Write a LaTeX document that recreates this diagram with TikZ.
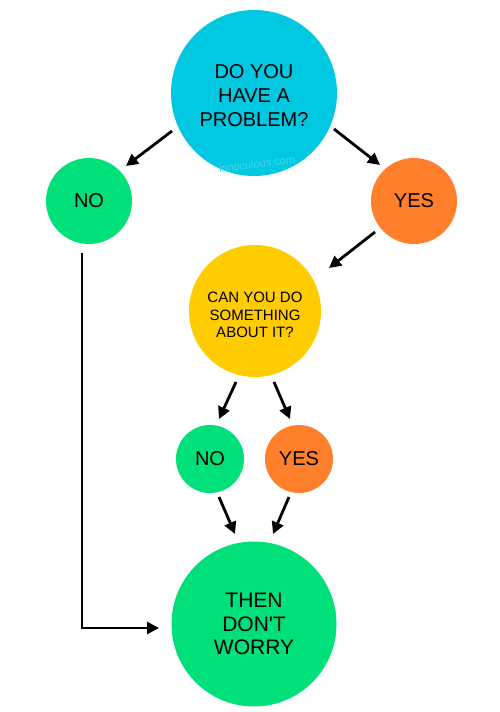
\documentclass[tikz,border=0pt]{standalone}
\usepackage{fontspec}
\setmainfont{Liberation Sans}
\usetikzlibrary{arrows.meta,calc}
\definecolor{qcyan}{HTML}{00C8E1}
\definecolor{qgreen}{HTML}{00E07A}
\definecolor{qorange}{HTML}{FF7F2A}
\definecolor{qyellow}{HTML}{FFCC00}
\definecolor{qmark}{HTML}{40D8EC}
\begin{document}
\begin{tikzpicture}[x=1pt,y=-1pt,
  bubble/.style={circle,inner sep=0pt,align=center,text=black},
  bigtext/.style={font=\fontsize{20}{24}\selectfont},
  lbl/.style={align=center,text=black},
  conn/.style={line width=2.8pt,-{Triangle[length=12pt,width=12pt]}}]
\fill[white] (0,0) rectangle (500,712);
\useasboundingbox (0,0) rectangle (500,712);
\node[bubble,fill=qcyan,minimum size=166pt,
  label={[lbl,bigtext,yshift=-3pt]center:DO YOU\\HAVE A\\PROBLEM?}] (top) at (254,93) {};
\node[rotate=7,text=qmark,font=\fontsize{11}{13}\selectfont] (wm) at (257,164) {innoculous.com};
\node[bubble,fill=qgreen,minimum size=86pt,bigtext] (no1) at (89,201) {NO};
\node[bubble,fill=qorange,minimum size=86pt,bigtext] (yes1) at (414,201) {YES};
\node[bubble,fill=qyellow,minimum size=132pt,
  label={[lbl,font=\fontsize{15}{17.5}\selectfont,yshift=-4pt]center:CAN YOU DO\\SOMETHING\\ABOUT IT?}] (yel) at (255,311) {};
\node[bubble,fill=qgreen,minimum size=68pt,bigtext] (no2) at (210,459) {NO};
\node[bubble,fill=qorange,minimum size=68pt,bigtext] (yes2) at (299,459) {YES};
\node[bubble,fill=qgreen,minimum size=165pt,font=\fontsize{21}{23.5}\selectfont] (end) at (254,624) {THEN\\DON\textquotesingle T\\WORRY};
\draw[conn] ($(top)+(-82,38)$) -- ($(no1)+(37,-35)$);
\draw[conn] ($(top)+(80,36)$) -- ($(yes1)+(-34,-36)$);
\draw[conn] ($(yes1)+(-39,31)$) -- ($(yel)+(74,-43)$);
\draw[conn] ($(yel)+(-19,71)$) -- ($(no2)+(9,-40)$);
\draw[conn] ($(yel)+(19,71)$) -- ($(yes2)+(-9,-40)$);
\draw[conn] ($(no2)+(9,38)$) -- ($(end)+(-19,-90)$);
\draw[conn] ($(yes2)+(-10,38)$) -- ($(end)+(19,-90)$);
\draw[conn] ($(no1)+(-7,52)$) |- ($(end)+(-95,4)$);
\end{tikzpicture}
\end{document}
